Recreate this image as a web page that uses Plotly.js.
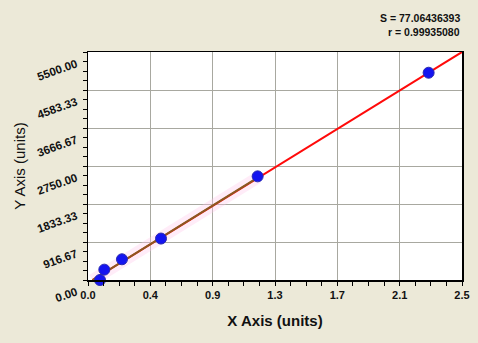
<!DOCTYPE html>
<html>
<head>
<meta charset="utf-8">
<script src="https://cdn.plot.ly/plotly-3.0.1.min.js"></script>
<style>
html,body{margin:0;padding:0;background:#ECE9D8;}
#chart{width:478px;height:343px;}
</style>
</head>
<body>
<div id="chart"></div>
<script>
// Data
var pointsX = [0.08, 0.109, 0.227, 0.488, 1.134, 2.277];
var pointsY = [0, 250, 500, 1000, 2500, 5000];
// Fitted line end points
var fitX = [0.03, 2.5];
var fitY = [0, 5500];
// Darker overlay segment (covering the lower part of the fit)
var segX = [0.03, 1.134];
var segY = [0, 2468];
// Tick positions and labels
var xTickVals = [0, 0.416667, 0.833333, 1.25, 1.666667, 2.083333, 2.5];
var xTickText = ['0.0', '0.4', '0.9', '1.3', '1.7', '2.1', '2.5'];
var yTickVals = [0, 916.67, 1833.33, 2750, 3666.67, 4583.33, 5500];
var yTickText = ['0.00', '916.67', '1833.33', '2750.00', '3666.67', '4583.33', '5500.00'];
var statS = 'S = 77.06436393';
var statR = 'r = 0.99935080';

var traces = [
  {x: segX, y: segY, mode: 'lines', line: {color: 'rgba(255,200,235,0.35)', width: 12}, hoverinfo: 'skip', showlegend: false},
  {x: fitX, y: fitY, mode: 'lines', line: {color: '#FF0A0A', width: 2}, hoverinfo: 'skip', showlegend: false},
  {x: segX, y: segY, mode: 'lines', line: {color: '#8A5A22', width: 2}, hoverinfo: 'skip', showlegend: false},
  {x: pointsX, y: pointsY, mode: 'markers', cliponaxis: false, marker: {color: '#1414F0', size: 11, line: {color: '#2A2AB0', width: 1}}, showlegend: false}
];

var tickFont = {family: 'Liberation Sans, Arial, sans-serif', size: 11, color: '#111', weight: 'bold'};

var layout = {
  width: 478, height: 343,
  paper_bgcolor: '#ECE9D8',
  plot_bgcolor: '#FFFFFF',
  margin: {l: 88, r: 16, t: 52, b: 63},
  showlegend: false,
  xaxis: {
    range: [0, 2.5],
    tickmode: 'array', tickvals: xTickVals, ticktext: xTickText,
    ticks: 'outside', ticklen: 4, tickcolor: '#000', tickwidth: 1,
    minor: {dtick: 2.5 / 24, tick0: 0, ticks: 'outside', ticklen: 4, tickcolor: '#000', showgrid: false},
    showgrid: true, gridcolor: '#A8A8A0', gridwidth: 1,
    showline: true, linecolor: '#000', linewidth: 1.5, mirror: true,
    zeroline: false,
    tickfont: tickFont,
    title: {text: 'X Axis (units)', font: {family: 'Liberation Sans, Arial, sans-serif', size: 15, color: '#111', weight: 'bold'}, standoff: 16},
    fixedrange: true
  },
  yaxis: {
    range: [0, 5500],
    tickmode: 'array', tickvals: yTickVals, ticktext: yTickText,
    ticks: 'outside', ticklen: 4, tickcolor: '#000', tickwidth: 1,
    minor: {dtick: 5500 / 24, tick0: 0, ticks: 'outside', ticklen: 4, tickcolor: '#000', showgrid: false},
    showgrid: true, gridcolor: '#A8A8A0', gridwidth: 1,
    showline: true, linecolor: '#000', linewidth: 1.5, mirror: true,
    zeroline: false,
    tickangle: -20,
    ticklabelshift: 11,
    ticklabelstandoff: 4,
    tickfont: {family: 'Liberation Sans, Arial, sans-serif', size: 11.5, color: '#111', weight: 'bold'},
    title: {text: 'Y Axis (units)', font: {family: 'Liberation Sans, Arial, sans-serif', size: 15, color: '#111'}, standoff: 6},
    fixedrange: true
  },
  annotations: [
    {xref: 'paper', yref: 'paper', x: 1, y: 1, xanchor: 'right', yanchor: 'bottom', yshift: 26,
     text: '<b>' + statS + '</b>', showarrow: false, font: {family: 'Liberation Sans, Arial, sans-serif', size: 10.5, color: '#111'}},
    {xref: 'paper', yref: 'paper', x: 1, y: 1, xanchor: 'right', yanchor: 'bottom', yshift: 12,
     text: '<b>' + statR + '</b>', showarrow: false, font: {family: 'Liberation Sans, Arial, sans-serif', size: 10.5, color: '#111'}}
  ]
};

Plotly.newPlot('chart', traces, layout, {displayModeBar: false, staticPlot: true});
</script>
</body>
</html>
